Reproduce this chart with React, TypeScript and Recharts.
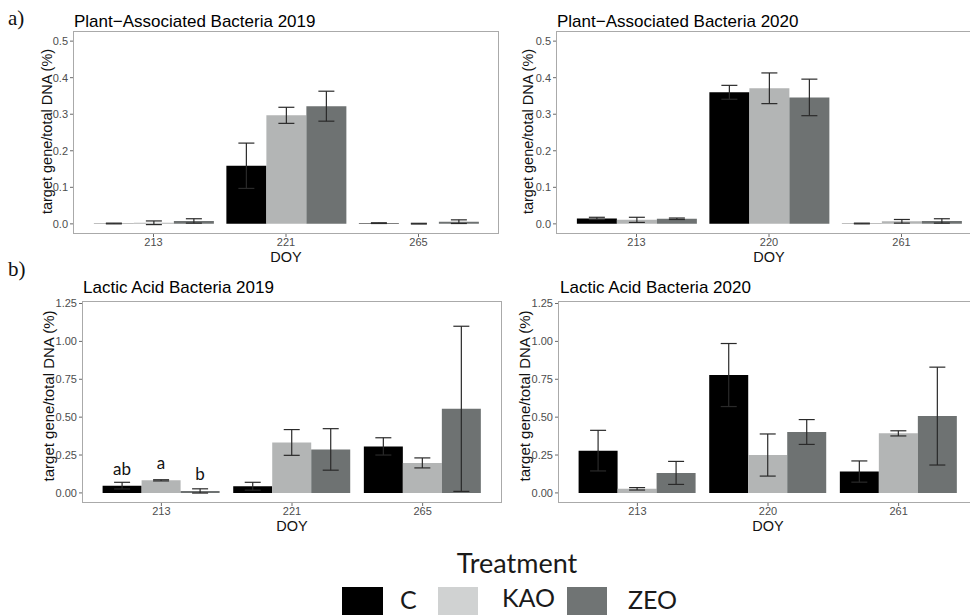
import { BarChart, Bar, XAxis, YAxis, ErrorBar, LabelList } from 'recharts';

// Treatment colours
const C_FILL = '#000000';
const KAO_FILL = '#b3b5b5';
const ZEO_FILL = '#6e7272';

const treatments = ['C', 'KAO', 'ZEO'];

// Plant-associated bacteria, 2019 (mean and SE per DOY)
const paDoy2019 = ['213', '221', '265'];
const pa19C = [0.001, 0.159, 0.002];
const pa19CErr = [0.001, 0.062, 0.001];
const pa19Kao = [0.003, 0.297, 0.0005];
const pa19KaoErr = [0.005, 0.022, 0.001];
const pa19Zeo = [0.008, 0.322, 0.006];
const pa19ZeoErr = [0.006, 0.041, 0.005];

// Plant-associated bacteria, 2020
const paDoy2020 = ['213', '220', '261'];
const pa20C = [0.015, 0.36, 0.001];
const pa20CErr = [0.003, 0.019, 0.001];
const pa20Kao = [0.011, 0.371, 0.007];
const pa20KaoErr = [0.007, 0.042, 0.005];
const pa20Zeo = [0.014, 0.346, 0.008];
const pa20ZeoErr = [0.002, 0.05, 0.006];

// Lactic acid bacteria, 2019
const labDoy2019 = ['213', '221', '265'];
const lab19C = [0.048, 0.044, 0.307];
const lab19CErr = [0.022, 0.026, 0.057];
const lab19Kao = [0.083, 0.333, 0.198];
const lab19KaoErr = [0.004, 0.085, 0.033];
const lab19Zeo = [0.013, 0.287, 0.555];
const lab19ZeoErr = [0.014, 0.137, 0.545];
// significance letters (only DOY 213 differs)
const lab19CTag = ['ab', '', ''];
const lab19KaoTag = ['a', '', ''];
const lab19ZeoTag = ['b', '', ''];

// Lactic acid bacteria, 2020
const labDoy2020 = ['213', '220', '261'];
const lab20C = [0.279, 0.778, 0.141];
const lab20CErr = [0.134, 0.208, 0.07];
const lab20Kao = [0.027, 0.25, 0.393];
const lab20KaoErr = [0.008, 0.139, 0.017];
const lab20Zeo = [0.132, 0.402, 0.507];
const lab20ZeoErr = [0.076, 0.082, 0.323];

const paTicks = [0, 0.1, 0.2, 0.3, 0.4, 0.5];
const labTicks = [0, 0.25, 0.5, 0.75, 1, 1.25];

const buildRows = (
  doy: string[],
  c: number[], cErr: number[],
  kao: number[], kaoErr: number[],
  zeo: number[], zeoErr: number[],
  tags?: string[][],
) =>
  doy.map((d, i) => ({
    doy: d,
    c: c[i], cErr: cErr[i],
    kao: kao[i], kaoErr: kaoErr[i],
    zeo: zeo[i], zeoErr: zeoErr[i],
    cTag: tags ? tags[0][i] : '',
    kaoTag: tags ? tags[1][i] : '',
    zeoTag: tags ? tags[2][i] : '',
  }));

const SANS = '"Liberation Sans", Arial, Helvetica, sans-serif';

const renderTag = (props: any) => {
  const { x, y, width, value } = props;
  if (!value) return null;
  return (
    <text
      x={Number(x) + Number(width) / 2}
      y={Number(y) - 11}
      textAnchor="middle"
      fontFamily="Lato, sans-serif"
      fontSize={17}
      fill="#111"
    >
      {value}
    </text>
  );
};

interface PanelProps {
  rows: ReturnType<typeof buildRows>;
  left: number;
  top: number;
  plotLeft: number;
  plotTop: number;
  plotWidth: number;
  plotHeight: number;
  domain: [number, number];
  ticks: number[];
  digits: number;
  yLabelGap: number;
  yLabelShift: number;
  yLabelSize: number;
  tagged?: boolean;
}

const Panel = ({
  rows, left, top, plotLeft, plotTop, plotWidth, plotHeight,
  domain, ticks, digits, yLabelGap, yLabelShift, yLabelSize, tagged,
}: PanelProps) => {
  const yAxisWidth = 40;
  const xAxisHeight = 36;
  const margin = { top: plotTop - top, left: plotLeft - left - yAxisWidth, right: 4, bottom: 0 };
  const width = margin.left + yAxisWidth + plotWidth + margin.right;
  const height = margin.top + plotHeight + xAxisHeight;
  // ggplot-style discrete expansion: 0.6 of a category on each side
  const pad = plotWidth / 32;
  const px0 = plotLeft - left;
  const py0 = plotTop - top;

  const doyLabel = () => (
    <text x={px0 + plotWidth / 2} y={py0 + plotHeight + 28.5} textAnchor="middle" fontSize={14.5} fill="#111">
      DOY
    </text>
  );
  const yLabel = () => {
    const x = px0 - yLabelGap;
    const y = py0 + plotHeight / 2 + yLabelShift;
    return (
      <text
        x={x}
        y={y}
        transform={`rotate(-90 ${x} ${y})`}
        textAnchor="middle"
        dominantBaseline="central"
        fontSize={yLabelSize}
        fill="#111"
      >
        target gene/total DNA (%)
      </text>
    );
  };

  const errStyle = { stroke: '#2a2a2a', strokeWidth: 1.2 };

  return (
    <div style={{ position: 'absolute', left, top, width, height }}>
      <BarChart width={width} height={height} data={rows} margin={margin} barCategoryGap="5%" barGap={0}>
        <XAxis
          dataKey="doy"
          interval={0}
          padding={{ left: pad, right: pad }}
          axisLine={false}
          tickLine={{ stroke: '#6a6a6a' }}
          tickSize={4}
          tickMargin={1}
          tick={{ fill: '#4d4d4d', fontSize: 11 }}
          height={xAxisHeight}
          label={doyLabel}
        />
        <YAxis
          type="number"
          domain={domain}
          ticks={ticks}
          allowDataOverflow
          width={yAxisWidth}
          axisLine={false}
          tickLine={{ stroke: '#6a6a6a' }}
          tickSize={4}
          tickMargin={2}
          tick={{ fill: '#4d4d4d', fontSize: 11 }}
          tickFormatter={(v: number) => v.toFixed(digits)}
          label={yLabel}
        />
        <Bar dataKey="c" name={treatments[0]} fill={C_FILL} isAnimationActive={false}>
          <ErrorBar dataKey="cErr" width={8} {...errStyle} isAnimationActive={false} />
          {tagged && <LabelList dataKey="cTag" content={renderTag} />}
        </Bar>
        <Bar dataKey="kao" name={treatments[1]} fill={KAO_FILL} isAnimationActive={false}>
          <ErrorBar dataKey="kaoErr" width={8} {...errStyle} isAnimationActive={false} />
          {tagged && <LabelList dataKey="kaoTag" content={renderTag} />}
        </Bar>
        <Bar dataKey="zeo" name={treatments[2]} fill={ZEO_FILL} isAnimationActive={false}>
          <ErrorBar dataKey="zeoErr" width={8} {...errStyle} isAnimationActive={false} />
          {tagged && <LabelList dataKey="zeoTag" content={renderTag} />}
        </Bar>
      </BarChart>
      {/* panel border */}
      <div
        style={{
          position: 'absolute',
          left: px0 - 1,
          top: py0 - 1,
          width: plotWidth + 2,
          height: plotHeight + 2,
          border: '1px solid #aaaaaa',
          boxSizing: 'border-box',
          pointerEvents: 'none',
        }}
      />
    </div>
  );
};

const paDomain: [number, number] = [-0.025, 0.525];
const labDomain: [number, number] = [-0.06, 1.26];

export default function App() {
  const pa19 = buildRows(paDoy2019, pa19C, pa19CErr, pa19Kao, pa19KaoErr, pa19Zeo, pa19ZeoErr);
  const pa20 = buildRows(paDoy2020, pa20C, pa20CErr, pa20Kao, pa20KaoErr, pa20Zeo, pa20ZeoErr);
  const lab19 = buildRows(labDoy2019, lab19C, lab19CErr, lab19Kao, lab19KaoErr, lab19Zeo, lab19ZeoErr, [
    lab19CTag, lab19KaoTag, lab19ZeoTag,
  ]);
  const lab20 = buildRows(labDoy2020, lab20C, lab20CErr, lab20Kao, lab20KaoErr, lab20Zeo, lab20ZeoErr);

  const legendFont = 'Lato, "Open Sans", sans-serif';

  return (
    <div
      style={{
        position: 'fixed',
        left: 0,
        top: 0,
        width: 970,
        height: 615,
        overflow: 'hidden',
        background: '#fff',
        fontFamily: SANS,
      }}
    >
      <Panel
        rows={pa19} left={0} top={0} plotLeft={74} plotTop={32} plotWidth={424} plotHeight={201}
        domain={paDomain} ticks={paTicks} digits={1} yLabelGap={27} yLabelShift={-1} yLabelSize={14.5}
      />
      <Panel
        rows={pa20} left={490} top={0} plotLeft={557} plotTop={32} plotWidth={424} plotHeight={201}
        domain={paDomain} ticks={paTicks} digits={1} yLabelGap={29} yLabelShift={-1} yLabelSize={14.5}
      />
      <Panel
        rows={lab19} left={0} top={270} plotLeft={83} plotTop={302} plotWidth={418} plotHeight={200}
        domain={labDomain} ticks={labTicks} digits={2} yLabelGap={35} yLabelShift={-6} yLabelSize={15} tagged
      />
      <Panel
        rows={lab20} left={490} top={270} plotLeft={559} plotTop={302} plotWidth={418} plotHeight={200}
        domain={labDomain} ticks={labTicks} digits={2} yLabelGap={35} yLabelShift={-6} yLabelSize={15}
      />

      {/* titles, panel tags and the shared legend */}
      <svg width={970} height={615} style={{ position: 'absolute', left: 0, top: 0, pointerEvents: 'none' }}>
        <text x={8} y={25} fontFamily='"Liberation Serif", serif' fontSize={21} fill="#111">a)</text>
        <text x={8} y={276} fontFamily='"Liberation Serif", serif' fontSize={21} fill="#111">b)</text>

        <text x={74} y={27} fontSize={17} fill="#000">Plant−Associated Bacteria 2019</text>
        <text x={557} y={27} fontSize={17} fill="#000">Plant−Associated Bacteria 2020</text>
        <text x={83} y={293} fontSize={17} fill="#000">Lactic Acid Bacteria 2019</text>
        <text x={560} y={293} fontSize={17} fill="#000">Lactic Acid Bacteria 2020</text>

        <text x={517} y={573} textAnchor="middle" fontFamily={legendFont} fontSize={27} fill="#1a1a1a">
          Treatment
        </text>
        <rect x={342} y={587} width={41} height={40} fill={C_FILL} />
        <text x={400} y={609} fontFamily={legendFont} fontSize={25} fill="#1a1a1a">{treatments[0]}</text>
        <rect x={438} y={587} width={40} height={40} fill="#d0d2d2" />
        <text x={502} y={607} fontFamily={legendFont} fontSize={25} fill="#1a1a1a">{treatments[1]}</text>
        <rect x={567} y={587} width={40} height={40} fill="#707474" />
        <text x={628} y={609} fontFamily={legendFont} fontSize={25} fill="#1a1a1a">{treatments[2]}</text>
      </svg>
    </div>
  );
}
